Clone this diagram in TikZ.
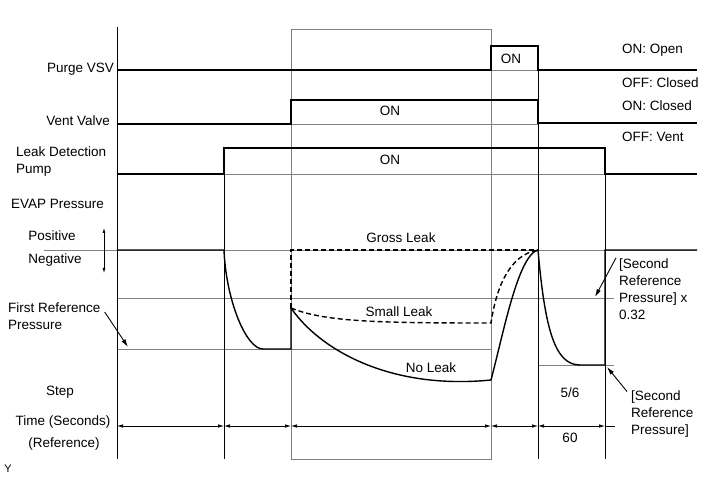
\documentclass[tikz,border=0pt]{standalone}
\usepackage{fontspec}
\setmainfont{Liberation Sans}
\usepackage{tikz}
\usetikzlibrary{arrows.meta,positioning}

\tikzset{
  sig/.style={line width=1.4pt, line join=miter},
  leak/.style={sig, dash pattern=on 5pt off 3pt},
  refline/.style={gray, line width=0.8pt},
  axisline/.style={black, line width=0.7pt},
  txt/.style={font=\fontsize{13.5}{17}\selectfont, inner sep=0pt, align=left},
  dim/.style={line width=0.7pt, {Latex[length=6pt,width=3.5pt]}-{Latex[length=6pt,width=3.5pt]}},
  callout/.style={line width=0.9pt, -{Latex[length=8pt,width=4.5pt]}}
}

\begin{document}
\begin{tikzpicture}[x=1pt,y=-1pt]
\useasboundingbox (0,0) rectangle (713,481);
% Reference lines
\draw[refline] (291,29) rectangle (491,459);
\draw[refline] (44,250) -- (697,250);
\foreach \y/\a/\b in {70/491/538, 124/291/538, 174/224/605, 298/117/614, 349/117/291, 349/291/491, 365/538/614}{
  \draw[refline] (\a,\y) -- (\b,\y);
}
% Time lines
\foreach \x/\top in {117/27, 224/148, 538/46, 605/148}{
  \draw[axisline] (\x,\top) -- (\x,459);
}
% Signals
\draw[sig] (117,70) -- (491,70) -- (491,46) -- (538,46) -- (538,70) -- (697,70);
\draw[sig] (117,124) -- (291,124) -- (291,100) -- (538,100) -- (538,123) -- (697,123);
\draw[sig] (117,174) -- (224,174) -- (224,148) -- (605,148) -- (605,174) -- (697,174);
% EVAP pressure
\draw[sig] (117,250) -- (224,250) .. controls (226,300) and (246,349) .. (263,349)
  -- (291,349) -- (291,308);
\draw[leak] (291,308) -- (291,250) -- (538,250);
\draw[leak] (291,308) .. controls (325,322) and (380,323) .. (491,323)
  .. controls (496,290) and (508,255) .. (538,250);
\draw[sig] (291,308) .. controls (320,350) and (390,390) .. (491,380)
  .. controls (503,335) and (518,255) .. (538,250);
\draw[sig] (538,250) .. controls (545,330) and (555,365) .. (580,365)
  -- (605,365) -- (605,250) -- (697,250);
% Time (Seconds)
\foreach \a/\b in {117/224, 224/291, 291/491, 491/538, 538/605}{
  \draw[dim] (\a,426) -- (\b,426);
}
\draw[axisline] (605,426) -- (615,426);
% Row labels
\node[txt, anchor=east] (purge) at (114,69) {Purge VSV};
\node[txt, anchor=east] (vent) at (110,121) {Vent Valve};
\node[txt, anchor=west] (pump) at (16,162) {Leak Detection\\Pump};
\node[txt, anchor=west] (evap) at (11,204) {EVAP Pressure};
\node[txt] (pos) at (52,236) {Positive};
\node[txt] (neg) at (55,260) {Negative};
\node[txt, anchor=west] (firstref) at (8,316) {First Reference\\Pressure};
\node[txt] (step) at (60,392) {Step};
\node[txt] (time) at (63,422) {Time (Seconds)};
\node[txt] (reference) at (64,444) {(Reference)};
\node[font=\fontsize{11}{12}\selectfont, inner sep=0pt] (ymark) at (8,469) {Y};
% States
\node[txt] (purgeon) at (511,59) {ON};
\node[txt] (venton) at (390,111) {ON};
\node[txt] (pumpon) at (390,160) {ON};
\node[txt, anchor=west] (open) at (622,50) {ON: Open};
\node[txt, anchor=west] (closed) at (622,83) {OFF: Closed};
\node[txt, anchor=west] (ventclosed) at (622,106) {ON: Closed};
\node[txt, anchor=west] (ventvent) at (622,137) {OFF: Vent};
\node[txt] (gross) at (401,238) {Gross Leak};
\node[txt] (small) at (399,312) {Small Leak};
\node[txt] (noleak) at (431,368) {No Leak};
\node[txt, anchor=west] (secondx) at (619,289.5) {[Second\\Reference\\Pressure] x\\0.32};
\node[txt, anchor=west] (second) at (631,414) {[Second\\Reference\\Pressure]};
\node[txt] (stepval) at (570,393) {5/6};
\node[txt] (timeval) at (570,438) {60};
% Arrows
\coordinate (postip) at (104,228);
\coordinate (negtip) at (104,273);
\draw[line width=0.7pt, {Latex[length=5pt,width=3pt]}-{Latex[length=5pt,width=3pt]}] (postip) -- (negtip);
\coordinate (firsttip) at (128,347);
\coordinate (secondxtip) at (595,297);
\coordinate (secondtip) at (607,367);
\draw[callout] ([shift={(4,-4)}]firstref.east) -- (firsttip);
\draw[callout] ([shift={(-3,-1)}]secondx.north west) -- (secondxtip);
\draw[callout] ([shift={(-4,1)}]second.north west) -- (secondtip);
\end{tikzpicture}
\end{document}
